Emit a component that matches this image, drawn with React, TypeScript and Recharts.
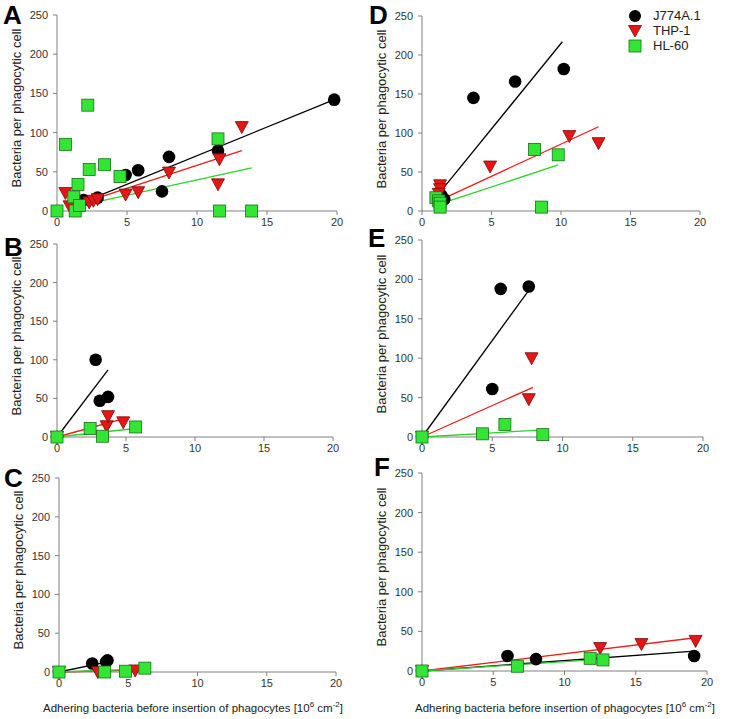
import React from 'react';
import { ScatterChart, Scatter, XAxis, YAxis } from 'recharts';

type Pt = { x: number; y: number };

// panel A
const aJ774: Pt[] = [
  { x: 1.3, y: 5 }, { x: 1.9, y: 14 }, { x: 2.9, y: 17 }, { x: 4.9, y: 46 }, { x: 5.8, y: 52 },
  { x: 7.5, y: 25 }, { x: 8.0, y: 69 }, { x: 11.5, y: 77 }, { x: 19.8, y: 142 },
];
const aTHP: Pt[] = [
  { x: 0.6, y: 23 }, { x: 0.9, y: 6 }, { x: 2.3, y: 11 }, { x: 2.6, y: 13 }, { x: 2.9, y: 15 },
  { x: 4.9, y: 21 }, { x: 5.8, y: 24 }, { x: 8.0, y: 49 }, { x: 11.5, y: 34 }, { x: 11.6, y: 66 },
  { x: 13.2, y: 107 },
];
const aHL60: Pt[] = [
  { x: 0, y: 0 }, { x: 0.6, y: 85 }, { x: 1.2, y: 18 }, { x: 1.3, y: 0 }, { x: 1.5, y: 34 },
  { x: 1.6, y: 7 }, { x: 2.2, y: 135 }, { x: 2.3, y: 53 }, { x: 3.4, y: 59 }, { x: 4.5, y: 44 },
  { x: 11.5, y: 92 }, { x: 11.6, y: 0 }, { x: 13.9, y: 0 },
];
const aJ774Fit: Pt[] = [{ x: 1.0, y: 5 }, { x: 19.8, y: 142 }];
const aTHPFit: Pt[] = [{ x: 0.9, y: 5 }, { x: 13.2, y: 77 }];
const aHL60Fit: Pt[] = [{ x: 0.9, y: 4 }, { x: 13.9, y: 55 }];

// panel B
const bJ774: Pt[] = [{ x: 0, y: 0 }, { x: 2.8, y: 100 }, { x: 3.1, y: 47 }, { x: 3.7, y: 52 }];
const bTHP: Pt[] = [{ x: 0, y: 0 }, { x: 3.6, y: 14 }, { x: 3.7, y: 27 }, { x: 4.8, y: 19 }];
const bHL60: Pt[] = [{ x: 0, y: 0 }, { x: 2.4, y: 11 }, { x: 3.3, y: 1 }, { x: 5.7, y: 13 }];
const bJ774Fit: Pt[] = [{ x: 0, y: 0 }, { x: 3.7, y: 87 }];
const bTHPFit: Pt[] = [{ x: 0, y: 0 }, { x: 4.9, y: 24 }];
const bHL60Fit: Pt[] = [{ x: 0, y: 0 }, { x: 5.7, y: 11 }];

// panel C
const cJ774: Pt[] = [{ x: 0, y: 0 }, { x: 2.4, y: 11 }, { x: 3.4, y: 13 }, { x: 3.5, y: 15 }];
const cTHP: Pt[] = [{ x: 0, y: 0 }, { x: 2.8, y: 0 }, { x: 5.5, y: 2 }];
const cHL60: Pt[] = [{ x: 0, y: 0 }, { x: 3.3, y: 0 }, { x: 4.8, y: 1 }, { x: 6.2, y: 5 }];
const cJ774Fit: Pt[] = [{ x: 0, y: 0 }, { x: 3.5, y: 13 }];
const cTHPFit: Pt[] = [{ x: 0, y: 0 }, { x: 5.5, y: 2.5 }];
const cHL60Fit: Pt[] = [{ x: 0, y: 0 }, { x: 6.2, y: 4 }];

// panel D
const dJ774: Pt[] = [{ x: 1.4, y: 20 }, { x: 1.6, y: 15 }, { x: 3.7, y: 145 }, { x: 6.7, y: 166 }, { x: 10.2, y: 182 }];
const dTHP: Pt[] = [{ x: 1.3, y: 33 }, { x: 1.3, y: 28 }, { x: 1.2, y: 22 }, { x: 4.9, y: 57 }, { x: 10.6, y: 96 }, { x: 12.7, y: 87 }];
const dHL60: Pt[] = [{ x: 1.0, y: 17 }, { x: 1.2, y: 13 }, { x: 1.3, y: 10 }, { x: 1.3, y: 5 }, { x: 8.1, y: 79 }, { x: 9.8, y: 72 }, { x: 8.6, y: 5 }];
const dJ774Fit: Pt[] = [{ x: 1.2, y: 22 }, { x: 10.1, y: 217 }];
const dTHPFit: Pt[] = [{ x: 1.3, y: 14 }, { x: 12.7, y: 108 }];
const dHL60Fit: Pt[] = [{ x: 1.3, y: 9 }, { x: 9.8, y: 59 }];

// panel E
const eJ774: Pt[] = [{ x: 0, y: 0 }, { x: 5.0, y: 61 }, { x: 5.6, y: 188 }, { x: 7.6, y: 191 }];
const eTHP: Pt[] = [{ x: 0, y: 0 }, { x: 7.6, y: 48 }, { x: 7.8, y: 100 }];
const eHL60: Pt[] = [{ x: 0, y: 0 }, { x: 4.3, y: 4 }, { x: 5.9, y: 16 }, { x: 8.6, y: 3 }];
const eJ774Fit: Pt[] = [{ x: 0, y: 0 }, { x: 7.6, y: 186 }];
const eTHPFit: Pt[] = [{ x: 0, y: 0 }, { x: 7.9, y: 63 }];
const eHL60Fit: Pt[] = [{ x: 0, y: 0 }, { x: 8.6, y: 9 }];

// panel F
const fJ774: Pt[] = [{ x: 0, y: 0 }, { x: 6.0, y: 19 }, { x: 8.0, y: 15 }, { x: 19.1, y: 19 }];
const fTHP: Pt[] = [{ x: 0, y: 0 }, { x: 12.5, y: 29 }, { x: 15.4, y: 34 }, { x: 19.2, y: 38 }];
const fHL60: Pt[] = [{ x: 0, y: 0 }, { x: 6.7, y: 6 }, { x: 11.8, y: 16 }, { x: 12.7, y: 14 }];
const fJ774Fit: Pt[] = [{ x: 0, y: 0 }, { x: 19.1, y: 25 }];
const fTHPFit: Pt[] = [{ x: 0, y: 0 }, { x: 19.2, y: 42 }];
const fHL60Fit: Pt[] = [{ x: 0, y: 0 }, { x: 12.7, y: 15 }];

const xTicks = [0, 5, 10, 15, 20];
const yTicks = [0, 50, 100, 150, 200, 250];
const legendNames = ['J774A.1', 'THP-1', 'HL-60'];

const FONT = "Arial, 'Liberation Sans', sans-serif";
const AXIS = '#808080';
const RED = '#e51616';
const GREEN = '#33e633';

const Dot = (p: any) => <circle cx={p.cx} cy={p.cy} r={6.3} fill="#000" />;
const TriDown = (p: any) => (
  <polygon
    points={`${p.cx - 6.5},${p.cy - 5.5} ${p.cx + 6.5},${p.cy - 5.5} ${p.cx},${p.cy + 6.5}`}
    fill={RED}
    stroke="#7a0a0a"
    strokeWidth={0.8}
  />
);
const Sq = (p: any) => (
  <rect x={p.cx - 6} y={p.cy - 6} width={12} height={12} fill={GREEN} stroke="#1d6b1d" strokeWidth={0.8} />
);
const NoDot = () => <g />;

type PanelProps = {
  letter: string;
  letterPos: [number, number];
  box: { left: number; right: number; top: number; bottom: number };
  j774: Pt[];
  thp: Pt[];
  hl60: Pt[];
  j774Fit: Pt[];
  thpFit: Pt[];
  hl60Fit: Pt[];
};

function Panel({ letter, letterPos, box, j774, thp, hl60, j774Fit, thpFit, hl60Fit }: PanelProps) {
  const plotW = box.right - box.left;
  const plotH = box.bottom - box.top;
  const padL = 45;
  const padT = 10;
  const padR = 15;
  const padB = 25;
  const tick = { fill: '#333', fontSize: 11, fontFamily: FONT };
  return (
    <>
      <div
        style={{
          position: 'absolute',
          left: letterPos[0],
          top: letterPos[1],
          fontFamily: FONT,
          fontWeight: 'bold',
          fontSize: 26,
          lineHeight: 1,
        }}
      >
        {letter}
      </div>
      <div
        style={{
          position: 'absolute',
          left: box.left - 40 - 100,
          top: (box.top + box.bottom) / 2 - 5 - 8,
          width: 200,
          height: 16,
          lineHeight: '16px',
          textAlign: 'center',
          transform: 'rotate(-90deg)',
          fontFamily: FONT,
          fontSize: 13,
          color: '#222',
          whiteSpace: 'nowrap',
        }}
      >
        Bacteria per phagocytic cell
      </div>
      <div style={{ position: 'absolute', left: box.left - padL, top: box.top - padT }}>
        <ScatterChart
          width={plotW + padL + padR}
          height={plotH + padT + padB}
          margin={{ top: padT, right: padR, bottom: 0, left: 0 }}
        >
          <XAxis
            type="number"
            dataKey="x"
            domain={[0, 20]}
            ticks={xTicks}
            height={padB}
            stroke={AXIS}
            tickSize={4}
            tickMargin={3}
            tick={tick}
          />
          <YAxis
            type="number"
            dataKey="y"
            domain={[0, 250]}
            ticks={yTicks}
            width={padL}
            stroke={AXIS}
            tickSize={4}
            tickMargin={5}
            tick={tick}
          />
          <Scatter data={j774Fit} line={{ stroke: '#000', strokeWidth: 1.3 }} shape={NoDot} isAnimationActive={false} />
          <Scatter data={thpFit} line={{ stroke: '#ee1c1c', strokeWidth: 1.3 }} shape={NoDot} isAnimationActive={false} />
          <Scatter data={hl60Fit} line={{ stroke: '#2ed12e', strokeWidth: 1.3 }} shape={NoDot} isAnimationActive={false} />
          <Scatter data={j774} shape={Dot} isAnimationActive={false} />
          <Scatter data={thp} shape={TriDown} isAnimationActive={false} />
          <Scatter data={hl60} shape={Sq} isAnimationActive={false} />
        </ScatterChart>
      </div>
    </>
  );
}

function XTitle({ cx }: { cx: number }) {
  return (
    <div
      style={{
        position: 'absolute',
        left: cx - 170,
        top: 700,
        width: 340,
        textAlign: 'center',
        fontFamily: FONT,
        fontSize: 11.5,
        color: '#222',
        whiteSpace: 'nowrap',
      }}
    >
      Adhering bacteria before insertion of phagocytes [10<sup style={{ fontSize: 8 }}>6</sup> cm
      <sup style={{ fontSize: 8 }}>-2</sup>]
    </div>
  );
}

function Legend() {
  const marks = [
    <svg width={16} height={16} key="a"><circle cx={8} cy={8} r={6} fill="#000" /></svg>,
    <svg width={16} height={16} key="b"><polygon points="1.5,2.5 14.5,2.5 8,14" fill={RED} stroke="#7a0a0a" strokeWidth={0.8} /></svg>,
    <svg width={16} height={16} key="c"><rect x={2} y={2} width={12} height={12} fill={GREEN} stroke="#1d6b1d" strokeWidth={0.8} /></svg>,
  ];
  return (
    <div style={{ position: 'absolute', left: 627, top: 8 }}>
      {legendNames.map((n, i) => (
        <div key={n} style={{ display: 'flex', alignItems: 'center', height: 15 }}>
          {marks[i]}
          <span style={{ marginLeft: 10, fontFamily: FONT, fontSize: 13, color: '#222' }}>{n}</span>
        </div>
      ))}
    </div>
  );
}

export default function App() {
  return (
    <div style={{ position: 'absolute', left: 0, top: 0, width: 730, height: 719, background: '#fff' }}>
      <Panel
        letter="A"
        letterPos={[3, 2]}
        box={{ left: 57, right: 337, top: 15, bottom: 211 }}
        j774={aJ774} thp={aTHP} hl60={aHL60}
        j774Fit={aJ774Fit} thpFit={aTHPFit} hl60Fit={aHL60Fit}
      />
      <Panel
        letter="B"
        letterPos={[4, 234]}
        box={{ left: 57, right: 333, top: 244, bottom: 437 }}
        j774={bJ774} thp={bTHP} hl60={bHL60}
        j774Fit={bJ774Fit} thpFit={bTHPFit} hl60Fit={bHL60Fit}
      />
      <Panel
        letter="C"
        letterPos={[4, 465]}
        box={{ left: 59, right: 336, top: 478, bottom: 672 }}
        j774={cJ774} thp={cTHP} hl60={cHL60}
        j774Fit={cJ774Fit} thpFit={cTHPFit} hl60Fit={cHL60Fit}
      />
      <Panel
        letter="D"
        letterPos={[369, 2]}
        box={{ left: 422, right: 700, top: 16, bottom: 211 }}
        j774={dJ774} thp={dTHP} hl60={dHL60}
        j774Fit={dJ774Fit} thpFit={dTHPFit} hl60Fit={dHL60Fit}
      />
      <Panel
        letter="E"
        letterPos={[368, 225]}
        box={{ left: 422, right: 703, top: 240, bottom: 437 }}
        j774={eJ774} thp={eTHP} hl60={eHL60}
        j774Fit={eJ774Fit} thpFit={eTHPFit} hl60Fit={eHL60Fit}
      />
      <Panel
        letter="F"
        letterPos={[374, 454]}
        box={{ left: 422, right: 707, top: 473, bottom: 671 }}
        j774={fJ774} thp={fTHP} hl60={fHL60}
        j774Fit={fJ774Fit} thpFit={fTHPFit} hl60Fit={fHL60Fit}
      />
      <Legend />
      <XTitle cx={193} />
      <XTitle cx={565} />
    </div>
  );
}
